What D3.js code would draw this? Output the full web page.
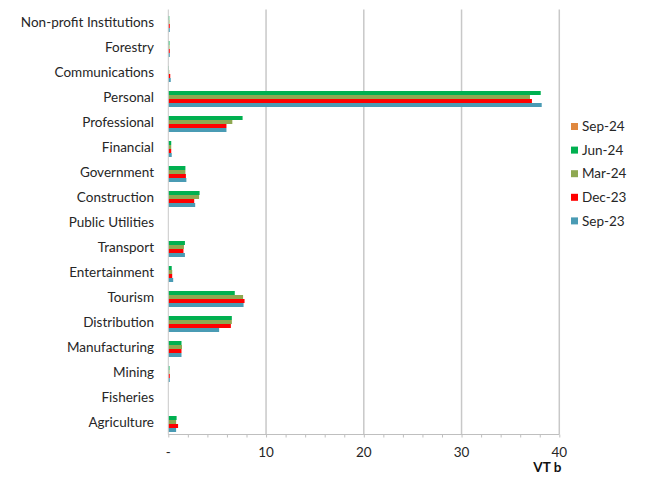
<!DOCTYPE html>
<html><head><meta charset="utf-8">
<script src="https://cdn.jsdelivr.net/npm/d3@7"></script>
<style>body{margin:0;background:#fff;} text{font-family:"Lato","Open Sans",sans-serif;}</style>
</head><body>
<svg id="c" width="645" height="479"></svg>
<script>
const categories = ["Non-profit Institutions","Forestry","Communications","Personal","Professional","Financial","Government","Construction","Public Utilities","Transport","Entertainment","Tourism","Distribution","Manufacturing","Mining","Fisheries","Agriculture"];
const seriesNames = ["Sep-24","Jun-24","Mar-24","Dec-23","Sep-23"];
const seriesColors = ["#E0883F","#00B050","#8EA851","#FF0000","#4A9BB4"];
const sep24 = [0,0,0,0,0,0,0,0,0,0,0,0,0,0,0,0,0];
const jun24 = [0.1,0.12,0.05,38.1,7.6,0.3,1.75,3.2,0,1.7,0.35,6.8,6.5,1.35,0.12,0,0.85];
const mar24 = [0.12,0.12,0.1,37.0,6.55,0.3,1.75,3.15,0,1.6,0.4,7.65,6.5,1.4,0.12,0,0.8];
const dec23 = [0.15,0.15,0.2,37.2,5.95,0.3,1.8,2.65,0,1.55,0.4,7.8,6.4,1.35,0.15,0,1.0];
const sep23 = [0.15,0.15,0.25,38.2,5.95,0.35,1.85,2.75,0,1.7,0.5,7.7,5.2,1.35,0.15,0,0.8];
const xTicks = [0,10,20,30,40];
const seriesValues = [sep24,jun24,mar24,dec23,sep23];

const svg = d3.select("#c");
const plotTop = 9.5, plotBottom = 434.5;
const x = d3.scaleLinear().domain([0,40]).range([168.3,559.3]);
const y0 = d3.scaleBand().domain(categories).range([plotTop,plotBottom]);
const bw = y0.bandwidth();
const y1 = d3.scaleBand().domain(seriesNames).range([bw*0.1,bw*0.9]);

// gridlines
svg.append("g").selectAll("line").data(xTicks.slice(1)).join("line")
  .attr("x1",d=>x(d)).attr("x2",d=>x(d)).attr("y1",plotTop).attr("y2",plotBottom)
  .attr("stroke","#c8c8c8").attr("stroke-width",1.5);

// bars
seriesNames.forEach((s,si)=>{
  svg.append("g").selectAll("rect").data(categories).join("rect")
    .attr("x",x(0)).attr("y",c=>y0(c)+y1(s))
    .attr("width",(c,i)=>Math.max(0,x(seriesValues[si][i])-x(0)))
    .attr("height",y1.bandwidth())
    .attr("fill",seriesColors[si]);
});

// y axis line
svg.append("line").attr("x1",x(0)).attr("x2",x(0)).attr("y1",plotTop).attr("y2",plotBottom)
  .attr("stroke","#c8c8c8").attr("stroke-width",1);

// x axis
const xa = svg.append("g").attr("transform",`translate(0,${plotBottom})`)
  .call(d3.axisBottom(x).tickValues(d3.range(0,41,2)).tickSize(3).tickFormat(""));
xa.select(".domain").attr("stroke","#bfbfbf").attr("d",`M${x(0)},0H${x(40)}`);
xa.selectAll(".tick line").attr("stroke","#bfbfbf");
svg.append("g").selectAll("text").data(xTicks).join("text")
  .attr("x",d=>x(d)).attr("y",457).attr("text-anchor","middle")
  .attr("font-size",13.5).attr("fill","#262626")
  .text(d=>d===0?"-":d);
svg.append("text").attr("x",x(40)+2).attr("y",472).attr("text-anchor","end")
  .attr("font-size",13.5).attr("font-weight","bold").attr("fill","#111").text("VT b");

// category labels
svg.append("g").selectAll("text").data(categories).join("text")
  .attr("x",154).attr("y",c=>y0(c)+bw/2).attr("dy","0.35em")
  .attr("text-anchor","end").attr("font-size",13.5).attr("fill","#262626")
  .text(c=>c);

// legend
const lg = svg.append("g").selectAll("g").data(seriesNames).join("g")
  .attr("transform",(d,i)=>`translate(571,${126.5+i*23.6})`);
lg.append("rect").attr("x",0).attr("y",-3.5).attr("width",7).attr("height",7)
  .attr("fill",(d,i)=>seriesColors[i]);
lg.append("text").attr("x",11).attr("y",0).attr("dy","0.35em")
  .attr("font-size",13.5).attr("fill","#262626").text(d=>d);
</script>
</body></html>
